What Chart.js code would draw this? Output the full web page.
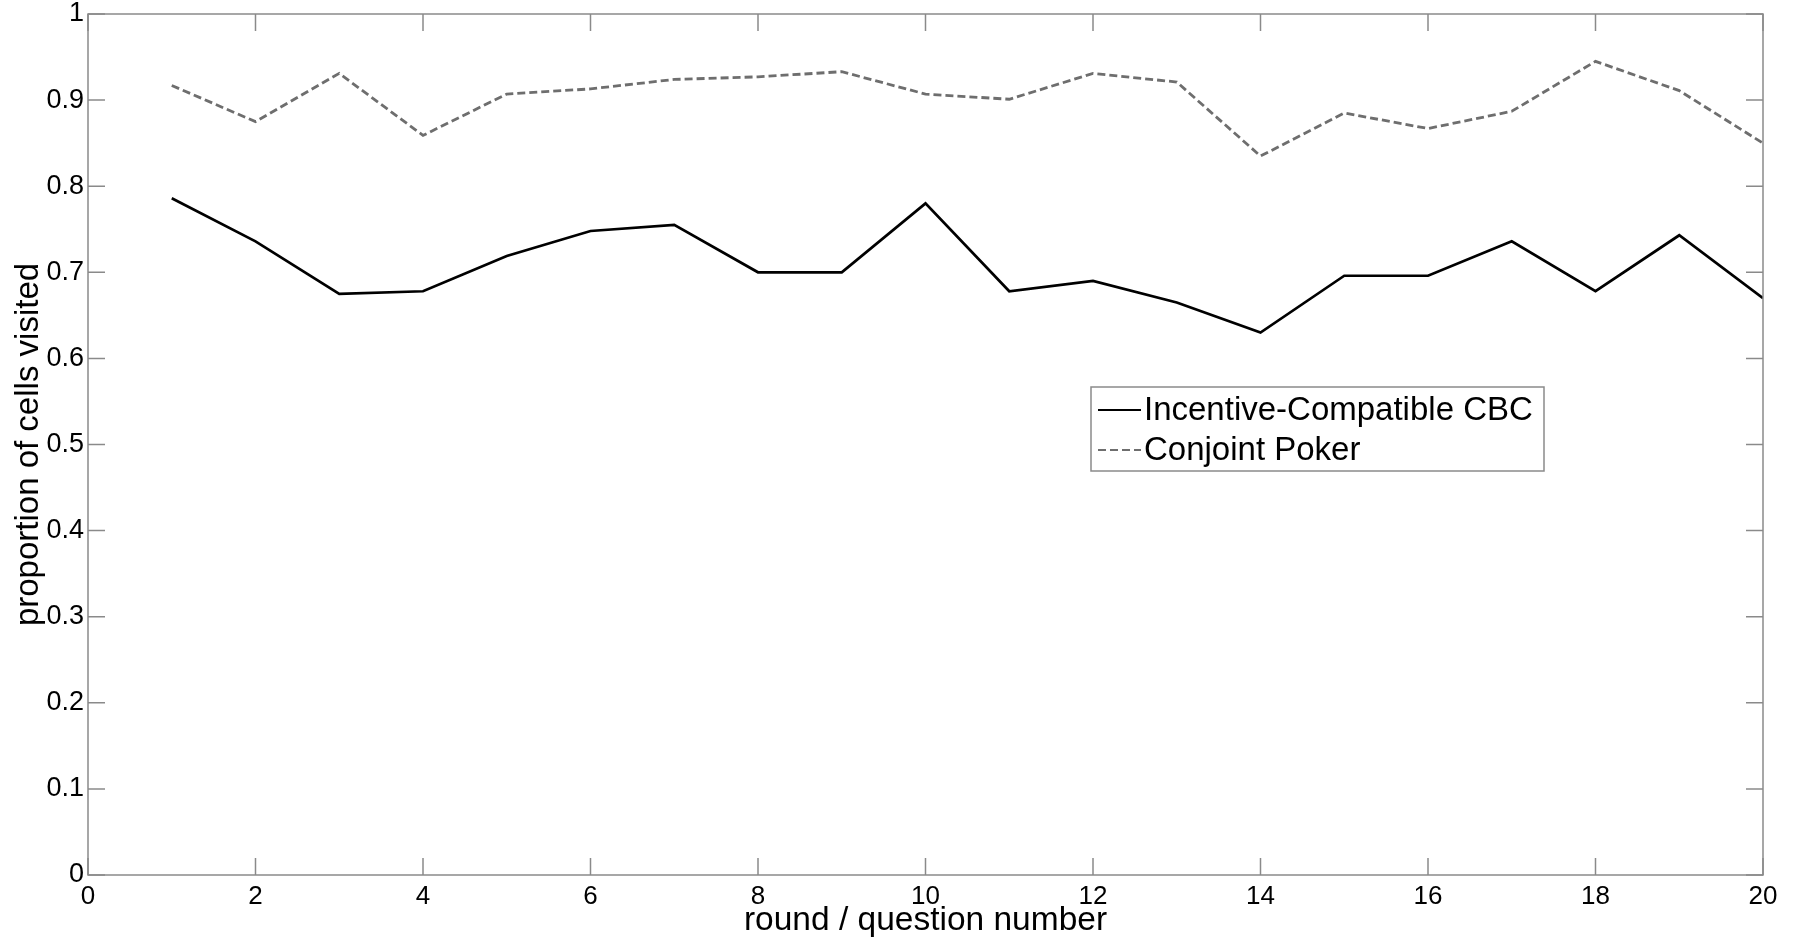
<!DOCTYPE html>
<html>
<head>
<meta charset="utf-8">
<script src="https://cdn.jsdelivr.net/npm/chart.js@4.4.0/dist/chart.umd.min.js"></script>
<style>
  html, body { margin: 0; padding: 0; background: #fff; }
</style>
</head>
<body>
<canvas id="chart" width="1797" height="940"></canvas>
<script>
// data
const rounds = [1, 2, 3, 4, 5, 6, 7, 8, 9, 10, 11, 12, 13, 14, 15, 16, 17, 18, 19, 20];
const incentiveCbc = [0.786, 0.736, 0.675, 0.678, 0.719, 0.748, 0.755, 0.700, 0.700, 0.780,
                      0.678, 0.690, 0.665, 0.630, 0.696, 0.696, 0.736, 0.678, 0.743, 0.670];
const conjointPoker = [0.917, 0.875, 0.931, 0.859, 0.907, 0.913, 0.924, 0.927, 0.933, 0.907,
                       0.901, 0.931, 0.921, 0.835, 0.885, 0.867, 0.887, 0.945, 0.911, 0.850];
const xTickValues = [0, 2, 4, 6, 8, 10, 12, 14, 16, 18, 20];
const yTickValues = [0, 0.1, 0.2, 0.3, 0.4, 0.5, 0.6, 0.7, 0.8, 0.9, 1];

const AXIS_GREY = '#8a8a8a';
const FONT = '"Liberation Sans", Arial, sans-serif';
const NARROW = '"Liberation Sans Narrow", "Liberation Sans", Arial, sans-serif';

// MATLAB style box with inward ticks on all four sides
const boxAxes = {
  id: 'boxAxes',
  afterDraw(chart) {
    const { ctx, chartArea: a, scales } = chart;
    const len = 17;
    ctx.save();
    ctx.strokeStyle = AXIS_GREY;
    ctx.lineWidth = 1.5;
    ctx.strokeRect(a.left, a.top, a.right - a.left, a.bottom - a.top);
    ctx.beginPath();
    xTickValues.forEach(v => {
      const x = scales.x.getPixelForValue(v);
      ctx.moveTo(x, a.bottom); ctx.lineTo(x, a.bottom - len);
      ctx.moveTo(x, a.top); ctx.lineTo(x, a.top + len);
    });
    yTickValues.forEach(v => {
      const y = scales.y.getPixelForValue(v);
      ctx.moveTo(a.left, y); ctx.lineTo(a.left + len, y);
      ctx.moveTo(a.right, y); ctx.lineTo(a.right - len, y);
    });
    ctx.stroke();
    ctx.restore();
  }
};

// legend box drawn inside the plot, like the original
const boxLegend = {
  id: 'boxLegend',
  afterDraw(chart) {
    const { ctx } = chart;
    const left = 1091, top = 387, w = 453, h = 84;
    ctx.save();
    ctx.fillStyle = '#fff';
    ctx.fillRect(left, top, w, h);
    ctx.strokeStyle = AXIS_GREY;
    ctx.lineWidth = 1.5;
    ctx.strokeRect(left, top, w, h);
    ctx.font = '33px ' + FONT;
    ctx.textBaseline = 'middle';
    chart.data.datasets.forEach((ds, i) => {
      const y = top + 23 + i * 40;
      ctx.beginPath();
      ctx.strokeStyle = ds.borderColor;
      ctx.lineWidth = 2;
      ctx.setLineDash(ds.borderDash || []);
      ctx.moveTo(left + 7, y);
      ctx.lineTo(left + 50, y);
      ctx.stroke();
      ctx.setLineDash([]);
      ctx.fillStyle = '#000';
      ctx.fillText(ds.label, left + 53, y + 1);
    });
    ctx.restore();
  }
};

new Chart(document.getElementById('chart'), {
  type: 'line',
  data: {
    datasets: [
      {
        label: 'Incentive-Compatible CBC',
        data: rounds.map((r, i) => ({ x: r, y: incentiveCbc[i] })),
        borderColor: '#000',
        borderWidth: 2.7,
        pointRadius: 0,
        tension: 0
      },
      {
        label: 'Conjoint Poker',
        data: rounds.map((r, i) => ({ x: r, y: conjointPoker[i] })),
        borderColor: '#6e6e6e',
        borderWidth: 2.8,
        borderDash: [8, 4],
        pointRadius: 0,
        tension: 0
      }
    ]
  },
  options: {
    responsive: false,
    animation: false,
    layout: { padding: { top: 14, right: 34, left: 0, bottom: 0 } },
    plugins: {
      legend: { display: false },
      tooltip: { enabled: false }
    },
    scales: {
      x: {
        type: 'linear',
        min: 0,
        max: 20,
        afterFit: s => { s.height = 65; },
        afterBuildTicks: s => { s.ticks = xTickValues.map(v => ({ value: v })); },
        grid: { display: false, drawTicks: false },
        border: { display: false },
        ticks: { padding: 6, color: '#000', font: { family: NARROW, size: 26 } },
        title: {
          display: true,
          text: 'round / question number',
          color: '#000',
          padding: { top: 0, bottom: -1 },
          font: { family: FONT, size: 33.5 }
        }
      },
      y: {
        min: 0,
        max: 1,
        afterFit: s => { s.width = 88; s.paddingTop = 0; s.paddingBottom = 0; },
        afterBuildTicks: s => { s.ticks = yTickValues.map(v => ({ value: v })); },
        grid: { display: false, drawTicks: false },
        border: { display: false },
        ticks: {
          padding: 4,
          color: '#000',
          font: { family: NARROW, size: 27, lineHeight: 1 },
          callback: v => String(+v.toFixed(1))
        },
        title: {
          display: true,
          text: 'proportion of cells visited',
          color: '#000',
          padding: { top: 9, bottom: 0 },
          font: { family: FONT, size: 33 }
        }
      }
    }
  },
  plugins: [boxAxes, boxLegend]
});
</script>
</body>
</html>
